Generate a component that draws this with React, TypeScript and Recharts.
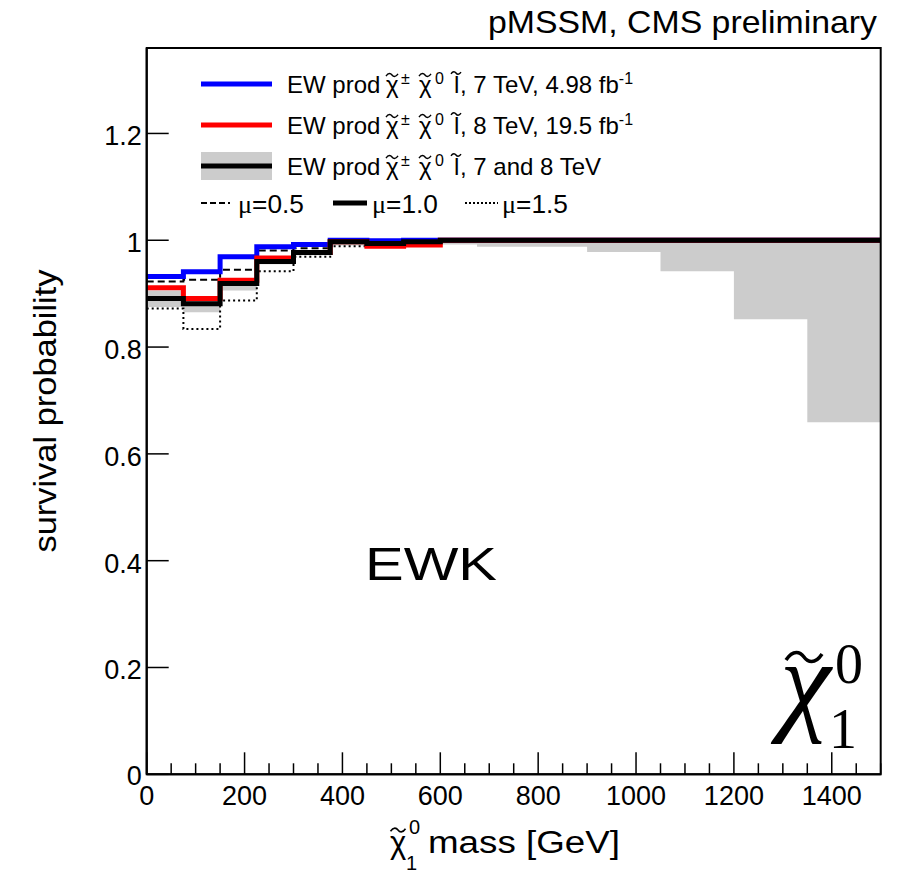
import { ComposedChart, Line, Area, XAxis, YAxis } from 'recharts';

// lower edges of the 75 GeV mass bins, plus the upper edge of the last bin
const binEdges = [0, 75, 150, 225, 300, 375, 450, 525, 600, 675, 750, 825, 900, 975, 1050, 1125, 1200, 1275, 1350, 1425];
const xMax = 1500;

// survival probability per bin
const ew7TeV = [0.932, 0.941, 0.969, 0.988, 0.992, 1.0, 0.999, 1.0, 1, 1, 1, 1, 1, 1, 1, 1, 1, 1, 1, 1];
const ew8TeV = [0.911, 0.891, 0.925, 0.967, 0.977, 0.997, 0.989, 0.991, 1, 1, 1, 1, 1, 1, 1, 1, 1, 1, 1, 1];
const ewComb = [0.891, 0.881, 0.919, 0.96, 0.977, 0.997, 0.994, 0.997, 1, 1, 1, 1, 1, 1, 1, 1, 1, 1, 1, 1];
const muHalf = [0.923, 0.926, 0.945, 0.981, 0.985, 0.999, 0.997, 1, 1, 1, 1, 1, 1, 1, 1, 1, 1, 1, 1, 1];
const muOneHalf = [0.872, 0.834, 0.887, 0.942, 0.969, 0.989, 0.992, 0.995, 1, 1, 1, 1, 1, 1, 1, 1, 1, 1, 1, 1];
const bandLow = [0.875, 0.865, 0.906, 0.955, 0.972, 0.99, 0.99, 0.99, 0.992, 0.988, 0.988, 0.988, 0.978, 0.978, 0.942, 0.942, 0.852, 0.852, 0.659, 0.659];
const bandHigh = [0.906, 0.893, 0.925, 0.967, 0.98, 1, 1, 1, 1, 1, 1, 1, 1, 1, 1, 1, 1, 1, 1, 1];

const xTicks = [0, 50, 100, 150, 200, 250, 300, 350, 400, 450, 500, 550, 600, 650, 700, 750, 800, 850, 900, 950, 1000, 1050, 1100, 1150, 1200, 1250, 1300, 1350, 1400, 1450, 1500];
const yTicks = [0, 0.2, 0.4, 0.6, 0.8, 1, 1.2];

const legendTails = ['7 TeV, 4.98 fb', '8 TeV, 19.5 fb', '7 and 8 TeV'];
const legendSups = ['-1', '-1', ''];
const muLabels = ['0.5', '1.0', '1.5'];

const FONT = '"Liberation Sans", Arial, Helvetica, sans-serif';
const SERIF = '"Liberation Serif", "DejaVu Serif", serif';

// histogram rows: one per bin edge, last edge repeats the last bin
const last = binEdges.length - 1;
const rows = [...binEdges, xMax].map((mass, i) => {
  const k = Math.min(i, last);
  return {
    mass,
    ew7: ew7TeV[k],
    ew8: ew8TeV[k],
    comb: ewComb[k],
    half: muHalf[k],
    oneHalf: muOneHalf[k],
    band: [bandLow[k], bandHigh[k]],
  };
});

const XTick = (props: any) => {
  const { x, y, payload } = props;
  const major = payload.value % 200 === 0 && payload.value < 1500;
  return (
    <g>
      <line x1={x} x2={x} y1={y} y2={y - (major ? 22 : 11)} stroke="#000" strokeWidth={1.5} />
      {major && (
        <text x={x} y={y + 31} textAnchor="middle" fontSize={27} fontFamily={FONT} fill="#000">
          {payload.value}
        </text>
      )}
    </g>
  );
};

const YTick = (props: any) => {
  const { x, y, payload } = props;
  const v = payload.value;
  const label = v === 0 ? '0' : v === 1 ? '1' : v.toFixed(1);
  return (
    <g>
      <line x1={x} x2={x + 22} y1={y} y2={y} stroke="#000" strokeWidth={1.5} />
      <text x={x - 5} y={y + (v === 0 ? 11 : 12)} textAnchor="end" fontSize={27} fontFamily={FONT} fill="#000">
        {label}
      </text>
    </g>
  );
};

// the tilde accent drawn over a letter
const Tilde = ({ cx, cy, w, sw = 1.4 }: { cx: number; cy: number; w: number; sw?: number }) => {
  const a = w * 0.14;
  const x0 = cx - w / 2;
  return (
    <path
      d={`M${x0},${cy + a * 0.6} C${x0 + w * 0.2},${cy - a * 1.6} ${x0 + w * 0.4},${cy - a} ${cx},${cy} S${x0 + w * 0.8},${cy + a * 1.6} ${x0 + w},${cy - a * 0.6}`}
      fill="none"
      stroke="#000"
      strokeWidth={sw}
    />
  );
};

// one legend label: EW prod chi~^{+-} chi~^{0} l~, <tail>
const LegendLabel = ({ y, tail, sup }: { y: number; tail: string; sup: string }) => (
  <g>
    <text fontSize={24} fontFamily={FONT} fill="#000">
      <tspan x={287} y={y}>EW prod</tspan>
      <tspan x={386} y={y}>χ</tspan>
      <tspan x={401} y={y - 9} fontSize={16}>±</tspan>
      <tspan x={419} y={y}>χ</tspan>
      <tspan x={435} y={y - 9} fontSize={16}>0</tspan>
      <tspan x={454} y={y}>l</tspan>
      <tspan x={460} y={y}>, {tail}</tspan>
      {sup && (
        <tspan y={y - 9} fontSize={16}>
          {sup}
        </tspan>
      )}
    </text>
    <Tilde cx={392} cy={y - 18} w={12} />
    <Tilde cx={425} cy={y - 18} w={12} />
    <Tilde cx={456} cy={y - 20} w={10} />
  </g>
);

export default function App() {
  return (
    <div style={{ position: 'absolute', left: 0, top: 0, width: 897, height: 877, background: '#fff' }}>
      <ComposedChart width={897} height={877} data={rows} margin={{ top: 48, right: 16.3, bottom: 62.7, left: 86.7 }}>
        <XAxis
          dataKey="mass"
          type="number"
          domain={[0, xMax]}
          ticks={xTicks}
          interval={0}
          height={40}
          tickSize={0}
          tickMargin={0}
          tick={<XTick />}
          axisLine={{ stroke: '#000', strokeWidth: 2 }}
          tickLine={false}
        />
        <YAxis
          type="number"
          domain={[0, 1.36]}
          allowDataOverflow
          ticks={yTicks}
          interval={0}
          width={60}
          tickSize={0}
          tickMargin={0}
          tick={<YTick />}
          axisLine={{ stroke: '#000', strokeWidth: 2 }}
          tickLine={false}
        />
        <Area dataKey="band" type="stepAfter" stroke="none" fill="#cccccc" fillOpacity={1} isAnimationActive={false} dot={false} activeDot={false} />
        <Line dataKey="oneHalf" type="stepAfter" stroke="#000" strokeWidth={2} strokeDasharray="2 3" dot={false} activeDot={false} isAnimationActive={false} />
        <Line dataKey="half" type="stepAfter" stroke="#000" strokeWidth={2} strokeDasharray="7 4" dot={false} activeDot={false} isAnimationActive={false} />
        <Line dataKey="ew7" type="stepAfter" stroke="#0000ff" strokeWidth={5} dot={false} activeDot={false} isAnimationActive={false} />
        <Line dataKey="ew8" type="stepAfter" stroke="#ff0000" strokeWidth={5} dot={false} activeDot={false} isAnimationActive={false} />
        <Line dataKey="comb" type="stepAfter" stroke="#000" strokeWidth={5} dot={false} activeDot={false} isAnimationActive={false} />
      </ComposedChart>

      <svg width={897} height={877} style={{ position: 'absolute', left: 0, top: 0, pointerEvents: 'none' }}>
        <rect x={146.7} y={48} width={734} height={726.3} fill="none" stroke="#000" strokeWidth={2} />

        <text x={877} y={33} textAnchor="end" fontSize={32} fontFamily={FONT} fill="#000" textLength={389} lengthAdjust="spacingAndGlyphs">
          pMSSM, CMS preliminary
        </text>

        {/* legend */}
        <line x1={201} x2={272} y1={84} y2={84} stroke="#0000ff" strokeWidth={5} />
        <line x1={201} x2={272} y1={125} y2={125} stroke="#ff0000" strokeWidth={5} />
        <rect x={201} y={152} width={71} height={28} fill="#cccccc" />
        <line x1={201} x2={272} y1={166} y2={166} stroke="#000" strokeWidth={5} />
        {legendTails.map((tail, i) => (
          <LegendLabel key={i} y={93 + i * 41} tail={tail} sup={legendSups[i]} />
        ))}
        <line x1={201} x2={230} y1={203} y2={203} stroke="#000" strokeWidth={2} strokeDasharray="6 3" />
        <line x1={333} x2={367} y1={203} y2={203} stroke="#000" strokeWidth={5} />
        <line x1={465} x2={498} y1={203} y2={203} stroke="#000" strokeWidth={2} strokeDasharray="2 2" />
        {[238, 372, 502].map((x, i) => (
          <text key={i} x={x} y={213} fontSize={25} fontFamily={FONT} fill="#000" textLength={66} lengthAdjust="spacingAndGlyphs">
            <tspan fontFamily={SERIF}>μ</tspan>={muLabels[i]}
          </text>
        ))}

        <text x={365} y={580} fontSize={46} fontFamily={FONT} fill="#000" textLength={132} lengthAdjust="spacingAndGlyphs">
          EWK
        </text>

        {/* big neutralino symbol */}
        <text fontFamily={SERIF} fill="#000">
          <tspan x={780} y={720} fontSize={115} fontStyle="italic">χ</tspan>
          <tspan x={835} y={683} fontSize={56}>0</tspan>
          <tspan x={829} y={748} fontSize={56}>1</tspan>
        </text>
        <Tilde cx={804} cy={657} w={36} sw={3.5} />

        {/* axis titles */}
        <text x={56} y={411} transform="rotate(-90 56 411)" textAnchor="middle" fontSize={31} fontFamily={FONT} fill="#000" textLength={283} lengthAdjust="spacingAndGlyphs">
          survival probability
        </text>
        <text fontSize={31} fontFamily={FONT} fill="#000">
          <tspan x={390} y={853}>χ</tspan>
          <tspan x={409} y={834} fontSize={20}>0</tspan>
          <tspan x={406} y={870} fontSize={20}>1</tspan>
        </text>
        <Tilde cx={398} cy={830} w={15} sw={1.6} />
        <text x={428} y={853} fontSize={31} fontFamily={FONT} fill="#000" textLength={192} lengthAdjust="spacingAndGlyphs">
          mass [GeV]
        </text>
      </svg>
    </div>
  );
}
